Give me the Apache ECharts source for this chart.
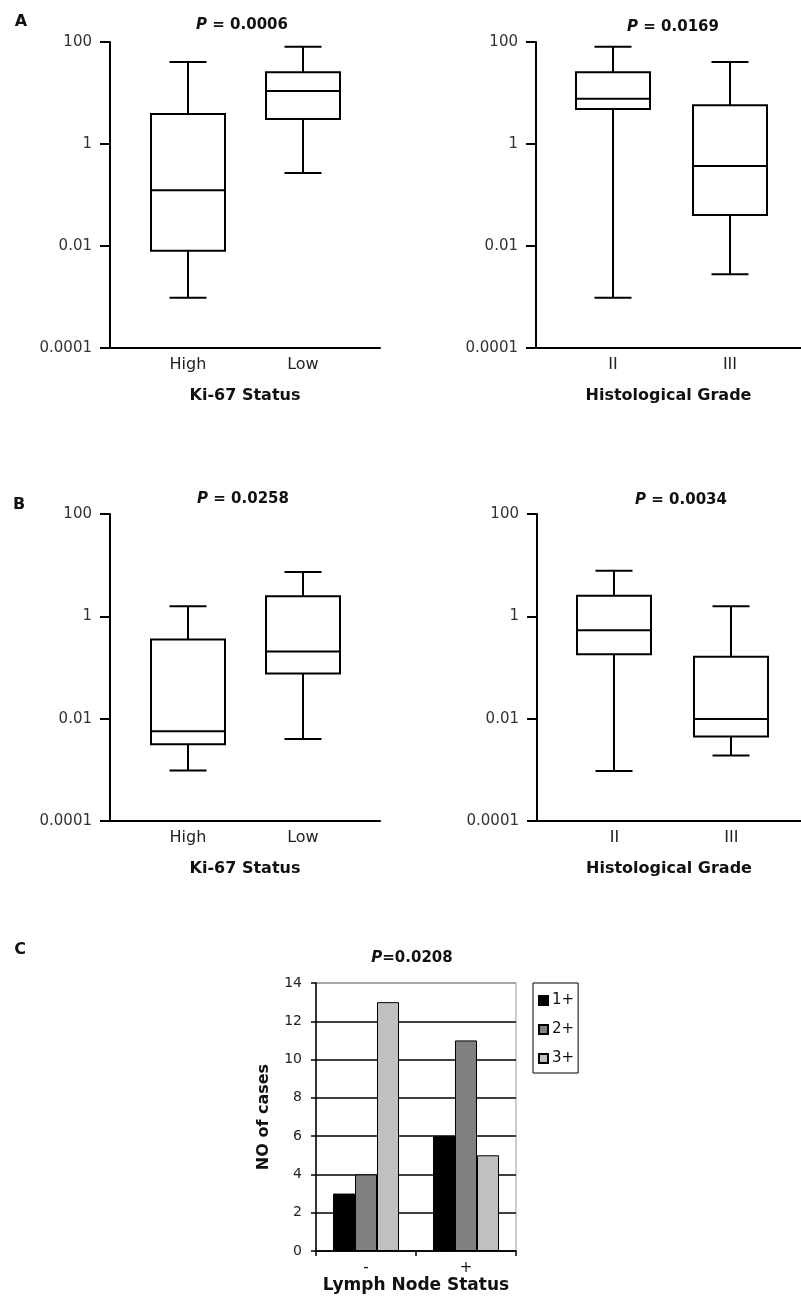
<!DOCTYPE html>
<html><head><meta charset="utf-8">
<script src="https://cdn.jsdelivr.net/npm/echarts@6/dist/echarts.min.js"></script>
<style>html,body{margin:0;padding:0;background:#fff}#c{width:801px;height:1297px}</style>
</head><body><div id="c"></div>
<script>
// ---------- data ----------
const ki67Categories = ['High', 'Low'];
const gradeCategories = ['II', 'III'];
const logTicks = [0.0001, 0.01, 1, 100];
const logTickLabels = ['0.0001', '0.01', '1', '100'];
// box values: [min, Q1, median, Q3, max]
const aKi67High = [0.00097, 0.0081, 0.124, 3.87, 40.5];
const aKi67Low = [0.27, 3.09, 10.9, 25.4, 81];
const aGradeII = [0.00097, 4.85, 7.7, 25.4, 81];
const aGradeIII = [0.0028, 0.0405, 0.37, 5.74, 40.5];
const bKi67High = [0.00097, 0.00316, 0.0057, 0.354, 1.57];
const bKi67Low = [0.004, 0.076, 0.206, 2.46, 7.35];
const bGradeII = [0.00095, 0.182, 0.537, 2.52, 7.76];
const bGradeIII = [0.0019, 0.0045, 0.0099, 0.163, 1.58];
const pValues = ['0.0006', '0.0169', '0.0258', '0.0034', '0.0208'];
// panel C
const lymphCategories = ['-', '+'];
const stainLevels = ['1+', '2+', '3+'];
const cases1plus = [3, 6];
const cases2plus = [4, 11];
const cases3plus = [13, 5];
const caseTicks = [0, 14, 2]; // min, max, step

// ---------- styles ----------
const REG = 'DejaVu Sans';
const BOLD = 'DejaVu Sans';
const LW = 2;

function boxRender(params, api) {
  const x = api.value(0);
  const pMin = api.coord([x, api.value(1)]);
  const pQ1 = api.coord([x, api.value(2)]);
  const pMed = api.coord([x, api.value(3)]);
  const pQ3 = api.coord([x, api.value(4)]);
  const pMax = api.coord([x, api.value(5)]);
  const hb = 37, hc = 18.5;
  const cx = Math.round(pMed[0]);
  const st = { stroke: '#000', lineWidth: LW, fill: null };
  return {
    type: 'group',
    children: [
      { type: 'line', shape: { x1: cx, y1: pMax[1], x2: cx, y2: pQ3[1] }, style: st },
      { type: 'line', shape: { x1: cx, y1: pQ1[1], x2: cx, y2: pMin[1] }, style: st },
      { type: 'line', shape: { x1: cx - hc, y1: pMax[1], x2: cx + hc, y2: pMax[1] }, style: st },
      { type: 'line', shape: { x1: cx - hc, y1: pMin[1], x2: cx + hc, y2: pMin[1] }, style: st },
      { type: 'rect', shape: { x: cx - hb, y: pQ3[1], width: 2 * hb, height: pQ1[1] - pQ3[1] }, style: { stroke: '#000', lineWidth: LW, fill: '#fff' } },
      { type: 'line', shape: { x1: cx - hb, y1: pMed[1], x2: cx + hb, y2: pMed[1] }, style: st }
    ]
  };
}

const boxPanels = [
  { grid: { left: 110, top: 42, width: 270, height: 306 }, xr: [0.322, 2.670], cats: ki67Categories, name: 'Ki-67 Status', data: [aKi67High, aKi67Low] },
  { grid: { left: 536, top: 42, width: 265, height: 306 }, xr: [0.342, 2.607], cats: gradeCategories, name: 'Histological Grade', data: [aGradeII, aGradeIII] },
  { grid: { left: 110, top: 514, width: 270, height: 307 }, xr: [0.322, 2.670], cats: ki67Categories, name: 'Ki-67 Status', data: [bKi67High, bKi67Low] },
  { grid: { left: 537, top: 514, width: 264, height: 307 }, xr: [0.3365, 2.597], cats: gradeCategories, name: 'Histological Grade', data: [bGradeII, bGradeIII] }
];

const grids = [], xAxes = [], yAxes = [], series = [];
boxPanels.forEach((p, i) => {
  grids.push(Object.assign({ containLabel: false }, p.grid));
  xAxes.push({
    type: 'value', gridIndex: i, min: p.xr[0], max: p.xr[1],
    axisLine: { show: true, onZero: false, lineStyle: { color: '#000', width: LW } },
    axisTick: { show: false }, splitLine: { show: false },
    axisLabel: {
      customValues: [1, 2], margin: 9,
      formatter: v => p.cats[Math.round(v) - 1],
      fontFamily: REG, fontSize: 16, color: '#222'
    },
    name: p.name, nameLocation: 'middle', nameGap: 40,
    nameTextStyle: { fontFamily: BOLD, fontWeight: 'bold', fontSize: 16, color: '#111' }
  });
  yAxes.push({
    type: 'log', logBase: 10, gridIndex: i, min: logTicks[0], max: logTicks[logTicks.length - 1],
    axisLine: { show: true, lineStyle: { color: '#000', width: LW } },
    axisTick: { show: true, customValues: logTicks, length: 10, lineStyle: { color: '#000', width: LW } },
    splitLine: { show: false },
    axisLabel: {
      customValues: logTicks, margin: 18,
      formatter: v => {
        const lg = Math.log10(v);
        let best = 0;
        logTicks.forEach((t, k) => { if (Math.abs(Math.log10(t) - lg) < Math.abs(Math.log10(logTicks[best]) - lg)) best = k; });
        return logTickLabels[best];
      },
      fontFamily: REG, fontSize: 15, color: '#333'
    }
  });
  series.push({
    type: 'custom', xAxisIndex: i, yAxisIndex: i,
    renderItem: boxRender,
    encode: { x: 0, y: [1, 2, 3, 4, 5] },
    data: p.data.map((d, k) => [k + 1].concat(d)),
    silent: true
  });
});

// panel C
const ci = boxPanels.length;
grids.push({ left: 316, top: 983, width: 200, height: 268, show: true, borderColor: '#9a9a9a', borderWidth: 1, backgroundColor: 'transparent' });
xAxes.push({
  type: 'category', gridIndex: ci, data: lymphCategories,
  axisLine: { show: true, lineStyle: { color: '#000', width: 1.5 } },
  axisTick: { show: true, length: 5, lineStyle: { color: '#000', width: 1.5 } },
  axisLabel: { margin: 10, fontFamily: REG, fontSize: 15, color: '#111' },
  name: 'Lymph Node Status', nameLocation: 'middle', nameGap: 25,
  nameTextStyle: { fontFamily: BOLD, fontWeight: 'bold', fontSize: 17, color: '#111' }
});
yAxes.push({
  type: 'value', gridIndex: ci, min: caseTicks[0], max: caseTicks[1], interval: caseTicks[2],
  axisLine: { show: true, lineStyle: { color: '#000', width: 1.5 } },
  axisTick: { show: true, length: 5, lineStyle: { color: '#000', width: 1.5 } },
  splitLine: { show: true, lineStyle: { color: ['#000', '#000', '#000', '#000', '#000', '#000', '#000', '#9a9a9a'], width: 1.5 } },
  axisLabel: { margin: 14, fontFamily: REG, fontSize: 14, color: '#222' },
  name: 'NO of cases', nameLocation: 'middle', nameGap: 44, nameRotate: 90,
  nameTextStyle: { fontFamily: BOLD, fontWeight: 'bold', fontSize: 16, color: '#111' }
});
const barColors = ['#000000', '#808080', '#c0c0c0'];
[cases1plus, cases2plus, cases3plus].forEach((vals, k) => {
  series.push({
    type: 'bar', name: stainLevels[k], xAxisIndex: ci, yAxisIndex: ci, data: vals,
    barGap: '0%', barCategoryGap: '34%',
    itemStyle: { color: barColors[k], borderColor: '#000', borderWidth: 1 },
    silent: true
  });
});

function titleText(x, y, p, sep) {
  return {
    type: 'text', x: x, y: y,
    style: {
      text: '{i|P}' + sep + p, align: 'center', verticalAlign: 'middle',
      font: 'bold 15px "DejaVu Sans"', fill: '#111',
      rich: { i: { fontStyle: 'italic', fontWeight: 'bold', fontFamily: BOLD, fontSize: 15, fill: '#111' } }
    }
  };
}
function letter(x, y, t) {
  return { type: 'text', x: x, y: y, style: { text: t, align: 'center', verticalAlign: 'middle', font: 'bold 16px "DejaVu Sans"', fill: '#111' } };
}
const graphics = [
  letter(21, 22, 'A'), letter(19, 505, 'B'), letter(20, 950, 'C'),
  titleText(242, 25, pValues[0], ' = '), titleText(673, 27, pValues[1], ' = '),
  titleText(243, 499, pValues[2], ' = '), titleText(681, 500, pValues[3], ' = '),
  titleText(412, 958, pValues[4], '=')
];

const chart = echarts.init(document.getElementById('c'), null, { renderer: 'canvas' });
chart.setOption({
  backgroundColor: '#fff',
  animation: false,
  grid: grids, xAxis: xAxes, yAxis: yAxes, series: series,
  legend: {
    data: stainLevels, orient: 'vertical', left: 533, top: 983,
    icon: 'rect', itemWidth: 9, itemHeight: 9, itemGap: 14,
    borderColor: '#000', borderWidth: 1, padding: [10, 4, 7, 5],
    textStyle: { fontFamily: REG, fontSize: 15, color: '#111', padding: [0, 0, 0, -1] },
    selectedMode: false
  },
  graphic: graphics
});
</script></body></html>
